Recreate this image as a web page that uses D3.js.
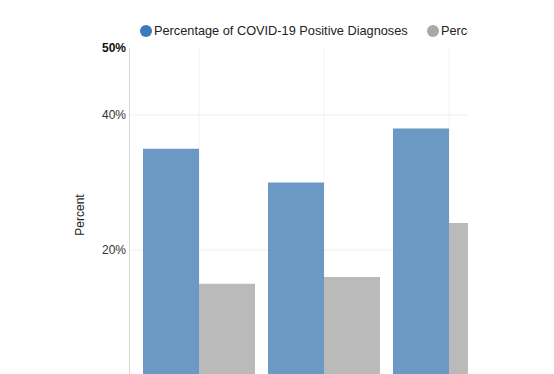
<!DOCTYPE html>
<html>
<head>
<meta charset="utf-8">
<script src="https://cdn.jsdelivr.net/npm/d3@7"></script>
<style>
  body { margin: 0; background: #fff; }
  text { font-family: "Liberation Sans", Arial, sans-serif; }
</style>
</head>
<body>
<div id="chart"></div>
<script>
const svgWidth = 554;
const svgHeight = 374;
const margin = { top: 47.5, left: 129 };
const width = 390;
const height = 337.5;
const clipRight = 468;

// data (category names are cut off in the reference)
const categories = ["Group A", "Group B", "Group C"];
const seriesNames = ["Percentage of COVID-19 Positive Diagnoses", "Percentage of Population"];
const positiveDiag = [35, 30, 38];
const population = [15, 16, 24];
const yTicks = [20, 40, 50];

const barColors = ["#6b99c3", "#bababa"];
const dotColors = ["#3a7abd", "#a9a9a9"];

let svg = d3.select("#chart").append("svg").attr("width", svgWidth).attr("height", svgHeight);
svg.append("clipPath").attr("id", "clip")
  .append("rect").attr("x", 0).attr("y", 0).attr("width", clipRight).attr("height", svgHeight);
let root = svg.append("g").attr("clip-path", "url(#clip)");
let chrtgrp = root.append("g").attr("transform", `translate(${margin.left}, ${margin.top})`);

let x0 = d3.scaleBand().domain(categories).range([0, width]).paddingInner(0.104).paddingOuter(0.112);
let x1 = d3.scaleBand().domain([0, 1]).range([0, x0.bandwidth()]);
let y = d3.scaleLinear().domain([0, 50]).range([height, 0]);

// grid
chrtgrp.append("g").selectAll("line")
  .data(yTicks.filter(d => d < 50))
  .join("line")
  .attr("x1", 0).attr("x2", width)
  .attr("y1", d => y(d)).attr("y2", d => y(d))
  .attr("stroke", "#efefef");
chrtgrp.append("g").selectAll("line")
  .data(categories)
  .join("line")
  .attr("x1", d => x0(d) + x0.bandwidth() / 2).attr("x2", d => x0(d) + x0.bandwidth() / 2)
  .attr("y1", 0).attr("y2", height)
  .attr("stroke", "#f2f2f2");

// bars
let rows = categories.map((c, i) => ({ cat: c, vals: [positiveDiag[i], population[i]] }));
let grp = chrtgrp.selectAll("g.cat")
  .data(rows)
  .join("g")
  .attr("class", "cat")
  .attr("transform", d => `translate(${x0(d.cat)}, 0)`);
grp.selectAll("rect")
  .data(d => d.vals.map((v, k) => ({ k, v })))
  .join("rect")
  .attr("x", d => x1(d.k))
  .attr("width", x1.bandwidth())
  .attr("y", d => y(d.v))
  .attr("height", d => height - y(d.v))
  .attr("fill", d => barColors[d.k]);

// y axis
let yAxis = chrtgrp.append("g")
  .call(d3.axisLeft(y).tickValues(yTicks).tickFormat(d => d + "%").tickSize(0).tickPadding(3));
yAxis.select(".domain").attr("stroke", "#d6d6d6");
yAxis.selectAll("text")
  .attr("font-size", 12)
  .attr("fill", d => d == 50 ? "#111" : "#333")
  .attr("font-weight", d => d == 50 ? "bold" : "normal")
  .attr("font-family", "Liberation Sans, Arial, sans-serif");

chrtgrp.append("text")
  .attr("transform", "rotate(-90)")
  .attr("x", -(215 - margin.top))
  .attr("y", -45)
  .attr("text-anchor", "middle")
  .attr("font-size", 12)
  .attr("fill", "#222")
  .text("Percent");

// legend
let legX = [146, 433];
let leg = root.append("g").selectAll("g")
  .data(seriesNames)
  .join("g")
  .attr("transform", (d, i) => `translate(${legX[i]}, 31)`);
leg.append("circle").attr("r", 6).attr("fill", (d, i) => dotColors[i]);
leg.append("text")
  .attr("x", 8).attr("dy", "0.35em")
  .attr("font-size", 12.75)
  .attr("fill", "#222")
  .text(d => d);
</script>
</body>
</html>
